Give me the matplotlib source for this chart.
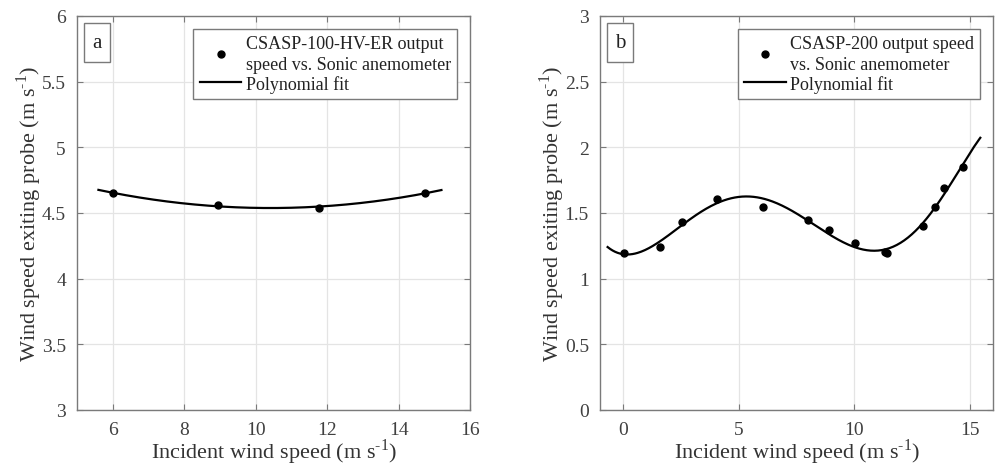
import numpy as np
import matplotlib
matplotlib.use("Agg")
import matplotlib.pyplot as plt
from matplotlib.patches import Rectangle

plt.rcParams['font.family'] = ['Liberation Serif', 'DejaVu Serif']
plt.rcParams['mathtext.fontset'] = 'custom'
plt.rcParams['mathtext.rm'] = 'Liberation Serif'

# Panel a data
a_x = [6.01, 8.96, 11.76, 14.74]
a_y = [4.650, 4.561, 4.538, 4.653]
a_fit_range = [5.6, 15.2]
a_fit_deg = 2

# Panel b data
b_x = [0.03, 1.58, 2.53, 4.06, 6.03, 7.99, 8.91, 10.03, 11.32, 11.42, 12.97, 13.47, 13.90, 14.70]
b_y = [1.193, 1.244, 1.434, 1.610, 1.548, 1.445, 1.373, 1.272, 1.201, 1.193, 1.404, 1.546, 1.691, 1.851]
b_fit_range = [-0.67, 15.45]
b_fit_deg = 6

a_label = "CSASP-100-HV-ER output\nspeed vs. Sonic anemometer"
b_label = "CSASP-200 output speed\nvs. Sonic anemometer"
fit_label = "Polynomial fit"
xlabel = "Incident wind speed (m s$^{\u2010 1}$)"
ylabel = "Wind speed exiting probe (m s$^{\u2010 1}$)"

axcol = '#7a7a7a'
txtcol = '#333333'

fig = plt.figure(figsize=(9.96, 4.77), dpi=100)
ax_a = fig.add_axes([0.0773, 0.1384, 0.3946, 0.826])
ax_b = fig.add_axes([0.6024, 0.1384, 0.3946, 0.826])


def style(ax, xlim, ylim, xticks, yticks):
    ax.set_xlim(*xlim)
    ax.set_ylim(*ylim)
    ax.set_xticks(xticks)
    ax.set_yticks(yticks)
    ax.set_yticklabels(['%g' % v for v in yticks])
    ax.grid(True, color='#e4e4e4', linewidth=0.9)
    ax.set_axisbelow(True)
    for s in ax.spines.values():
        s.set_color(axcol)
        s.set_linewidth(1.0)
    ax.tick_params(direction='in', length=4, width=0.8, color=axcol,
                   top=True, right=True, labelsize=14, labelcolor='#404040', pad=8)
    ax.set_xlabel(xlabel, fontsize=16, color=txtcol, labelpad=-1)
    ax.set_ylabel(ylabel, fontsize=16, color=txtcol, labelpad=-1.5)


def panel(ax, xs, ys, rng, deg, label, letter):
    coef = np.polyfit(xs, ys, deg)
    fx = np.linspace(rng[0], rng[1], 300)
    ax.plot(xs, ys, 'o', color='black', markersize=5, label=label, zorder=3)
    ax.plot(fx, np.polyval(coef, fx), '-', color='black', linewidth=1.6, label=fit_label, zorder=2)
    leg = ax.legend(loc='upper right', fontsize=13, frameon=True, fancybox=False,
                    edgecolor=axcol, framealpha=1, handlelength=2.3, handletextpad=0.25,
                    borderpad=0.35, labelspacing=0.1, borderaxespad=0.7)
    leg.get_frame().set_linewidth(1.0)
    for t in leg.get_texts():
        t.set_color('#222222')
        t.set_linespacing(1.3)
    ax.add_patch(Rectangle((0.018, 0.883), 0.065, 0.099, transform=ax.transAxes,
                           facecolor='white', edgecolor=axcol, linewidth=1.0, zorder=5))
    ax.text(0.0505, 0.932, letter, transform=ax.transAxes, fontsize=15, ha='center',
            va='center', color='#222222', zorder=6)


style(ax_a, (5, 16), (3, 6), [6, 8, 10, 12, 14, 16], [3, 3.5, 4, 4.5, 5, 5.5, 6])
panel(ax_a, a_x, a_y, a_fit_range, a_fit_deg, a_label, 'a')

style(ax_b, (-1, 16), (0, 3), [0, 5, 10, 15], [0, 0.5, 1, 1.5, 2, 2.5, 3])
panel(ax_b, b_x, b_y, b_fit_range, b_fit_deg, b_label, 'b')

fig.savefig('out.png', dpi=100)
